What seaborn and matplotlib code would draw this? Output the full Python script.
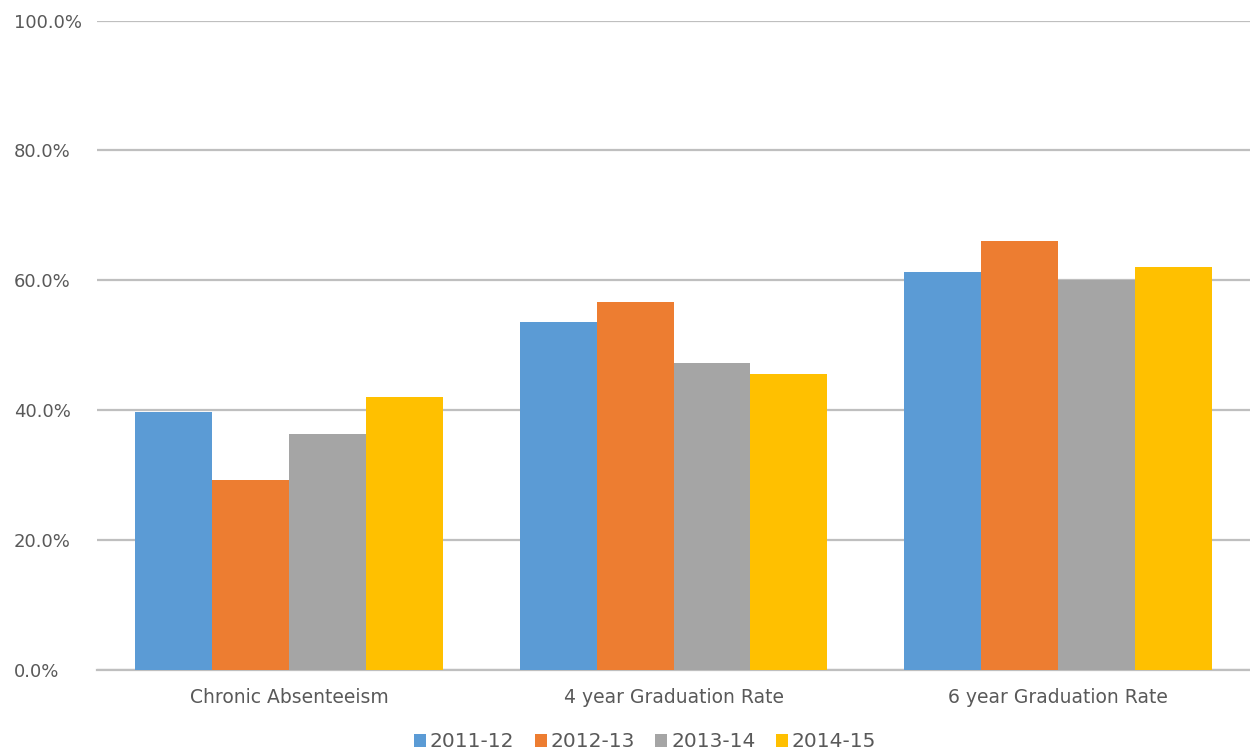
import matplotlib
matplotlib.use("Agg")
import matplotlib.pyplot as plt
import seaborn as sns
import pandas as pd
from matplotlib.ticker import FuncFormatter

categories = ["Chronic Absenteeism", "4 year Graduation Rate", "6 year Graduation Rate"]
years = ["2011-12", "2012-13", "2013-14", "2014-15"]
v_2011_12 = [0.398, 0.536, 0.613]
v_2012_13 = [0.293, 0.567, 0.661]
v_2013_14 = [0.364, 0.473, 0.600]
v_2014_15 = [0.421, 0.456, 0.620]
colors = ["#5B9BD5", "#ED7D31", "#A5A5A5", "#FFC000"]

rows = []
for yr, vals in zip(years, [v_2011_12, v_2012_13, v_2013_14, v_2014_15]):
    for c, v in zip(categories, vals):
        rows.append({"Category": c, "Year": yr, "Value": v})
df = pd.DataFrame(rows)

sns.set_theme(style="white")
plt.rcParams['font.family'] = ['DejaVu Sans']

fig = plt.figure(figsize=(12.5, 7.54), dpi=100)
ax = fig.add_axes([0.0776, 0.1114, 0.9224, 0.8614])

sns.barplot(data=df, x="Category", y="Value", hue="Year", palette=colors,
            width=0.8, ax=ax, saturation=1, zorder=3, legend=True, linewidth=0)

ax.set_ylim(0, 1.0)
ax.set_yticks([0, 0.2, 0.4, 0.6, 0.8, 1.0])
ax.yaxis.set_major_formatter(FuncFormatter(lambda v, p: f"{v*100:.1f}%"))
ax.grid(axis="y", color="#BFBFBF", linewidth=1.6, zorder=0)
ax.grid(axis="x", visible=False)
for s in ["top", "right", "left"]:
    ax.spines[s].set_visible(False)
ax.spines["bottom"].set_color("#BFBFBF")
ax.spines["bottom"].set_linewidth(1.6)
ax.set_xlabel("")
ax.set_ylabel("")
ax.tick_params(axis="y", length=0, pad=59.8, labelsize=13, labelcolor="#595959")
for lbl in ax.get_yticklabels():
    lbl.set_horizontalalignment("left")
ax.tick_params(axis="x", length=0, pad=13, labelsize=13.5, labelcolor="#595959")
ax.set_xlim(-0.5, 2.5)

leg = ax.legend(loc="center", bbox_to_anchor=(0.516, 0.016), bbox_transform=fig.transFigure,
                ncol=4, frameon=False, fontsize=14.5, handlelength=0.6, handleheight=0.6,
                handletextpad=0.2, columnspacing=1.0, borderaxespad=0)
for t in leg.get_texts():
    t.set_color("#595959")

fig.savefig("out.png", dpi=100)
